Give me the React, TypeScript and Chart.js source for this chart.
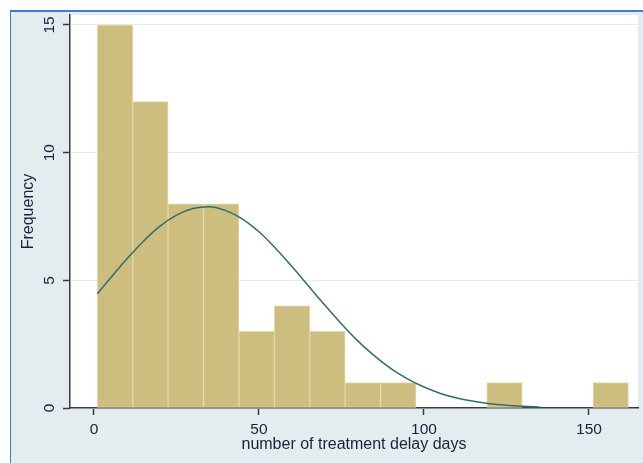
import React, { useEffect, useRef } from 'react';
import { Chart, registerables } from 'chart.js';

Chart.register(...registerables);

// Histogram bins (days) and frequencies
const binStart = 1;
const binWidth = 10.73;
const counts = [15, 12, 8, 8, 3, 4, 3, 1, 1, 0, 0, 1, 0, 0, 1];

// Normal density overlay (frequency scale)
const curveX = [1, 5, 10, 15, 20, 25, 30, 35, 40, 45, 50, 55, 60, 65, 70, 75, 80, 85, 90, 95, 100, 105, 110, 115, 120, 125, 130, 135];
const curveY = [4.47, 5.09, 5.84, 6.53, 7.12, 7.55, 7.81, 7.88, 7.73, 7.4, 6.9, 6.26, 5.54, 4.78, 4.02, 3.29, 2.62, 2.04, 1.54, 1.14, 0.82, 0.57, 0.39, 0.26, 0.17, 0.11, 0.065, 0.04];

const xTicks = [0, 50, 100, 150];
const yTicks = [0, 5, 10, 15];

const xTitle = 'number of treatment delay days';
const yTitle = 'Frequency';

const FONT = "'Liberation Sans', Arial, sans-serif";
const TEXT = '#1c2038';
const AXIS = '#3a3a3a';

const plotBg = {
  id: 'plotBg',
  beforeDraw(c: any) {
    const { ctx, chartArea: a } = c;
    ctx.save();
    ctx.fillStyle = '#ffffff';
    ctx.fillRect(a.left, a.top, a.right - a.left, a.bottom - a.top);
    ctx.restore();
  },
};

export default function App() {
  const ref = useRef<HTMLCanvasElement>(null);

  useEffect(() => {
    document.body.style.margin = '0';
    const centers = counts.map((_, i) => binStart + binWidth * (i + 0.5));
    const chart = new Chart(ref.current as HTMLCanvasElement, {
      data: {
        datasets: [
          {
            type: 'bar',
            data: counts.map((c, i) => ({ x: centers[i], y: c })),
            backgroundColor: '#cdbd7e',
            borderColor: '#e3d8a8',
            borderWidth: 1,
            borderSkipped: false,
            barPercentage: 1,
            categoryPercentage: 1,
            order: 2,
          } as any,
          {
            type: 'line',
            data: curveX.map((x, i) => ({ x, y: curveY[i] })),
            borderColor: '#2e6f72',
            borderWidth: 1.5,
            pointRadius: 0,
            cubicInterpolationMode: 'monotone',
            fill: false,
            order: 1,
          } as any,
        ],
      },
      options: {
        responsive: false,
        animation: false,
        layout: { padding: { left: 0, right: 5, top: 15, bottom: 0 } },
        plugins: { legend: { display: false }, tooltip: { enabled: false } },
        scales: {
          x: {
            type: 'linear',
            offset: false,
            min: -7.27,
            max: 164.85,
            afterBuildTicks: (s: any) => {
              s.ticks = xTicks.map((v) => ({ value: v }));
            },
            afterFit: (s: any) => {
              s.height = 55;
            },
            ticks: {
              font: { family: FONT, size: 15.5 },
              color: TEXT,
              padding: 5.3,
              autoSkip: false,
              maxRotation: 0,
            },
            grid: {
              offset: false,
              drawOnChartArea: false,
              drawTicks: true,
              tickLength: 7,
              tickColor: AXIS,
              tickWidth: 1.5,
            },
            border: { color: AXIS, width: 1.5 },
            title: {
              display: true,
              text: xTitle,
              font: { family: FONT, size: 16 },
              color: TEXT,
              padding: { top: 0, bottom: 9.2 },
            },
          } as any,
          y: {
            type: 'linear',
            min: 0,
            max: 15.39,
            afterBuildTicks: (s: any) => {
              s.ticks = yTicks.map((v) => ({ value: v }));
            },
            afterFit: (s: any) => {
              s.width = 70;
            },
            ticks: {
              font: { family: FONT, size: 15.5 },
              color: TEXT,
              padding: 4.8,
              autoSkip: false,
              minRotation: 90,
              maxRotation: 90,
              crossAlign: 'center',
            },
            grid: {
              color: '#e4ecf0',
              lineWidth: 1,
              drawTicks: true,
              tickLength: 7,
              tickColor: AXIS,
              tickWidth: 1.5,
            },
            border: { color: AXIS, width: 1.5 },
            title: {
              display: true,
              text: yTitle,
              font: { family: FONT, size: 16 },
              color: TEXT,
              padding: { top: 18.9, bottom: 0 },
            },
          } as any,
        },
      },
      plugins: [plotBg],
    });
    return () => chart.destroy();
  }, []);

  return (
    <div style={{ position: 'relative', width: 643, height: 463, background: '#ffffff', overflow: 'hidden' }}>
      <div
        style={{
          position: 'absolute',
          left: 10,
          top: 10,
          width: 633,
          height: 453,
          boxSizing: 'border-box',
          background: '#e4ecf0',
          borderTop: '2px solid #3b7dd8',
          borderLeft: '1.5px solid #3b7dd8',
        }}
      />
      <canvas
        ref={ref}
        width={643}
        height={463}
        style={{ position: 'absolute', left: 0, top: 0, width: 643, height: 463 }}
      />
    </div>
  );
}
